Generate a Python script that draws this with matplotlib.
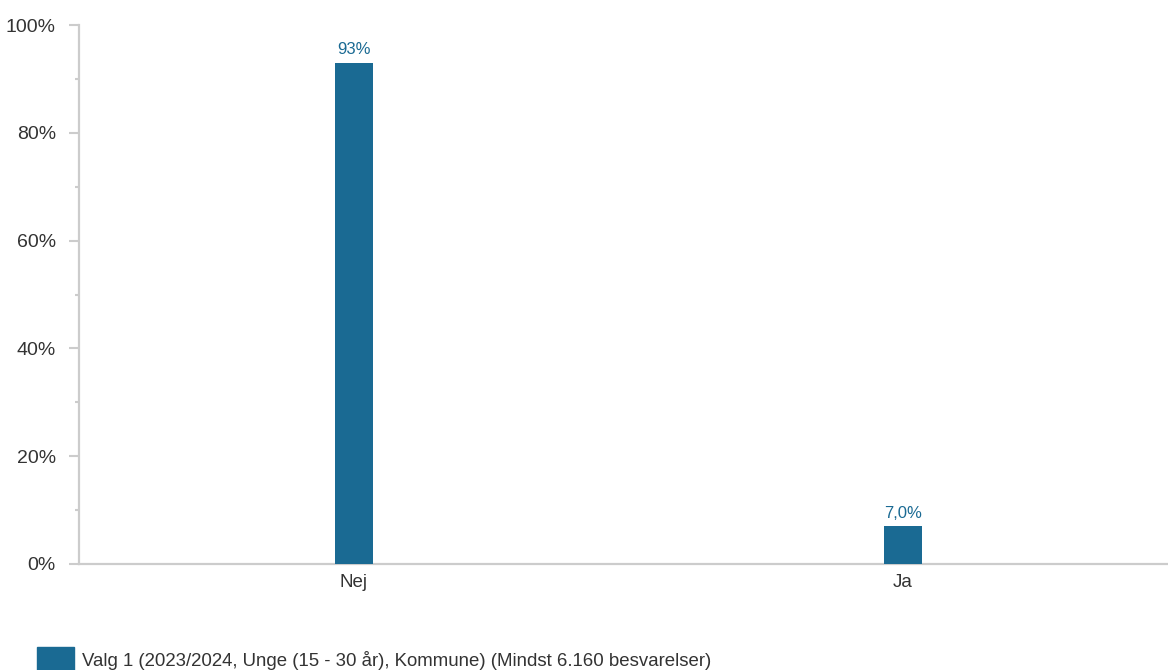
import matplotlib.pyplot as plt
from matplotlib.patches import Rectangle

categories = ['Nej', 'Ja']
values = [93, 7.0]
value_labels = ['93%', '7,0%']
legend_label = 'Valg 1 (2023/2024, Unge (15 - 30 år), Kommune) (Mindst 6.160 besvarelser)'
yticks = [0, 20, 40, 60, 80, 100]

bar_color = '#1a6a93'
text_color = '#333333'
grey = '#cccccc'

plt.rcParams['font.family'] = ['Liberation Sans', 'DejaVu Sans']

fig = plt.figure(figsize=(11.68, 6.70), dpi=100)
ax = fig.add_axes([79 / 1168, 1 - 564 / 670, (1168 - 79) / 1168, (564 - 25) / 670])

x = range(len(categories))
ax.bar(x, values, width=0.069, color=bar_color, zorder=3)
for xi, v, lab in zip(x, values, value_labels):
    ax.text(xi, v + 1.0, lab, ha='center', va='bottom', fontsize=12, color=bar_color)

ax.set_xlim(-0.5, 1.483)
ax.set_ylim(0, 100)
ax.set_xticks(list(x))
ax.set_xticklabels(categories, fontsize=13.5, color=text_color)
ax.set_yticks(yticks)
ax.set_yticklabels([f'{t}%' for t in yticks], fontsize=14, color=text_color)
ax.set_yticks([10, 30, 50, 70, 90], minor=True)
ax.tick_params(axis='y', which='major', length=7.2, width=1.5, color=grey, pad=9.4)
ax.tick_params(axis='y', which='minor', length=2.9, width=1.5, color=grey)
ax.tick_params(axis='x', length=0, pad=7)

for s in ['top', 'right']:
    ax.spines[s].set_visible(False)
for s in ['left', 'bottom']:
    ax.spines[s].set_color(grey)
    ax.spines[s].set_linewidth(1.6)

# legend at bottom
fig.patches.append(Rectangle((37 / 1168, 0), 37 / 1168, 23 / 670, transform=fig.transFigure,
                             color=bar_color, figure=fig))
fig.text(82 / 1168, 10 / 670, legend_label, fontsize=13.4, color=text_color, va='center', ha='left')

fig.savefig('out.png', dpi=100)
